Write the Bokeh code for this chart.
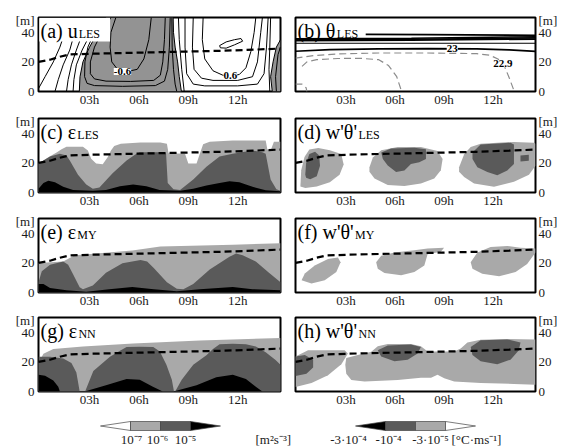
from bokeh.plotting import figure
from bokeh.layouts import column, row
from bokeh.models import Range1d, FixedTicker, Label, BoxAnnotation
from bokeh.embed import file_html
from bokeh.resources import INLINE
from bokeh.core.properties import value

SERIF = "Liberation Serif"
LIGHT = "#a9a9a9"
DARK = "#5a5a5a"
BLACK = "#000000"
UGRAY = "#939393"

T_START, T_END = -0.1, 14.6
Z_START, Z_END = 0, 50
x_ticks = [3, 6, 9, 12]
x_tick_labels = ["03h", "06h", "09h", "12h"]
y_ticks = [0, 20, 40]
y_unit_tick = 48

# boundary-layer height (dashed)
blh_t = [-0.1, 0.6, 1.2, 1.8, 3, 5, 7, 9, 11, 13, 14.6]
blh_z = [20, 21.5, 23.5, 25, 25.5, 26, 26.5, 27, 27.5, 28.3, 29]

# ---------------- (a) u_LES ----------------
a_neg_t = [[2.38, 2.42, 2.6, 3.0, 3.5, 4.0, 8.08, 8.1, 8.2, 8.35, 8.45, 8.58],
           [14.1, 14.0, 14.15, 14.35, 14.6, 14.6]]
a_neg_z = [[0, 10, 20, 30, 40, 50, 50, 40, 30, 20, 10, 0],
           [0, 10, 20, 30, 35, 0]]
a_lines_t = [
    [-0.1, 0.3, 0.8, 1.2, 1.5, 1.7],
    [0.9, 1.1, 1.4, 1.8, 2.1, 2.4],
    [1.6, 1.7, 1.9, 2.2, 2.6, 3.0],
    [2.0, 2.05, 2.2, 2.55, 3.1, 3.7],
    [2.38, 2.42, 2.6, 3.0, 3.5, 4.0],
    [3.9, 3.3, 2.9, 2.72, 2.7, 2.85, 3.3, 5.0, 7.0, 7.55, 7.75, 7.85, 7.9],
    [4.3, 3.75, 3.3, 3.05, 3.05, 3.3, 4.0, 5.5, 6.9, 7.3, 7.45, 7.55, 7.6],
    [4.6, 4.3, 4.25, 4.35, 4.7, 5.3, 5.9, 6.3, 6.6, 6.75],
    [8.0, 8.02, 8.1, 8.2, 8.3],
    [8.08, 8.1, 8.2, 8.35, 8.45, 8.58],
    [8.4, 8.45, 8.6, 8.75],
    [8.8, 8.8, 8.9, 9.3, 10.0, 12.0, 13.2, 13.6, 13.75, 13.85],
    [9.3, 9.25, 9.35, 9.8, 10.5, 12.0, 12.9, 13.2, 13.4, 13.5],
    [9.9, 9.85, 10.0, 10.5, 11.1, 11.6, 12.1, 12.5, 12.8, 13.0, 13.1],
    [10.9, 11.3, 11.8, 12.2, 12.3, 11.8, 11.3, 10.95, 10.9],
    [14.0, 13.95, 13.9, 13.95],
    [14.1, 14.0, 14.15, 14.35, 14.6],
    [14.35, 14.3, 14.45, 14.6],
]
a_lines_z = [
    [2, 10, 20, 30, 40, 50],
    [0, 8, 18, 28, 40, 50],
    [0, 8, 18, 28, 40, 50],
    [0, 8, 18, 28, 40, 50],
    [0, 10, 20, 30, 40, 50],
    [50, 40, 30, 20, 10, 5.5, 4, 3.5, 4, 7, 15, 30, 50],
    [50, 40, 30, 20, 12, 8.5, 7, 6.8, 7.5, 11, 20, 35, 50],
    [50, 40, 30, 20, 15, 13.5, 15, 22, 35, 50],
    [50, 30, 15, 5, 0],
    [50, 40, 30, 20, 10, 0],
    [50, 35, 15, 0],
    [50, 30, 12, 5, 3.8, 3.8, 5, 12, 30, 50],
    [50, 30, 15, 9, 7.5, 7.5, 10, 20, 40, 50],
    [50, 35, 22, 14, 11, 10.5, 11.5, 16, 27, 40, 50],
    [31, 33.5, 35, 35.8, 34, 31.5, 29.3, 29.5, 31],
    [50, 30, 15, 0],
    [0, 10, 20, 30, 35],
    [0, 10, 25, 30],
]
a_clabels = ["-0.6", "0.6"]
a_clabel_t = [5.0, 11.55]
a_clabel_z = [13.5, 10.5]

# ---------------- (b) theta_LES ----------------
b_solid_t = [[4.2, 8, 14.6], [-0.1, 7, 14.6], [-0.1, 7, 14.6], [-0.1, 7, 14.6],
             [-0.1, 14.6], [-0.1, 2, 5, 8, 11, 13, 14.6]]
b_solid_z = [[38.6, 38.4, 38.0], [35.6, 36.0, 37.0], [35.0, 35.3, 36.2], [34.4, 34.7, 35.4],
             [32.6, 32.6], [27.2, 28.3, 28.8, 29.0, 28.8, 28.1, 27.1]]
b_solid_w = [1.6, 1.6, 1.6, 1.6, 1.0, 1.6]
b_dash_t = [[-0.1, 1, 2.5, 5, 8, 11, 11.8, 12.3, 12.7, 13.0, 13.3],
            [0.3, 0.6, 1.2, 2.5, 3.9, 5.0, 5.6, 6.1, 6.4],
            [-0.1, 0.3, 0.55, 0.6]]
b_dash_z = [[22.5, 24.3, 25.4, 26.0, 26.0, 25.6, 24.5, 22, 17, 9, 0],
            [17, 20, 21.5, 22.3, 22.4, 21.5, 17.5, 10, 0],
            [5, 5, 2.5, 0]]
b_clabels = ["23", "22.9"]
b_clabel_t = [9.5, 12.6]
b_clabel_z = [29.0, 18.8]

# ---------------- (c) eps_LES ----------------
c_light_t = [-0.1, 0.6, 1.0, 1.3, 1.6, 2.6, 2.9, 3.1, 3.4, 3.8, 4.1, 4.3, 4.5, 4.9, 6.1, 7.3, 7.7, 7.8,
             8.8, 9.0, 9.5, 9.7, 9.9, 10.3, 11.7, 13.7, 13.8, 14.0, 14.2, 14.6]
c_light_z = [19.6, 24.5, 27.0, 29.3, 30.9, 30.9, 28.3, 22.8, 19.6, 19.1, 23.9, 28.3, 31.5, 33.0, 33.7, 33.7,
             33.0, 26.5, 26.1, 19.6, 19.6, 26.1, 32.6, 34.3, 35.2, 35.2, 29.3, 28.3, 34.3, 34.3]
c_dark_t = [-0.1, 0.6, 1.2, 1.6, 1.8, 2.3, 2.8, 3.2, 3.6, 4.4, 5.25, 5.85, 6.05, 7.45, 7.65, 7.75, 8.1,
            8.5, 9.3, 10.1, 10.9, 11.7, 12.9, 13.5, 13.7, 14.0, 14.35, 14.6]
c_dark_z = [19.6, 24.3, 26.1, 25.0, 21.7, 12.0, 5.4, 2.6, 3.3, 13.0, 21.7, 26.1, 27.2, 27.2, 26.1, 6.5,
            2.2, 1.7, 8.7, 17.4, 24.3, 26.1, 28.3, 27.2, 26.1, 8.7, 2.2, 1.1]
c_black_t = [-0.1, 0.2, 0.5, 0.9, 1.4, 2.0, 3.2, 4.0, 4.85, 5.65, 6.45, 7.25, 8.5, 9.3, 10.1, 10.9,
             11.5, 12.1, 12.9, 13.7, 14.6]
c_black_z = [2.6, 6.5, 8.0, 7.0, 3.9, 1.7, 1.1, 1.7, 4.3, 5.4, 4.3, 1.7, 1.1, 2.6, 4.8, 6.5, 7.6, 7.0,
             3.9, 1.5, 0.9]

# ---------------- (d) w'theta'_LES ----------------
d_light_t = [[0.2, 0.25, 0.45, 0.75, 1.3, 2.0, 2.7, 2.85, 2.6, 2.0, 1.2, 0.5],
             [4.43, 4.64, 5.15, 6.16, 7.58, 8.6, 8.91, 8.8, 8.4, 7.58, 6.57, 5.55, 4.74, 4.43],
             [9.92, 10.23, 10.63, 11.24, 13.28, 14.5, 14.6, 14.6, 14.2, 13.28, 12.06, 10.84, 10.23, 9.92]]
d_light_z = [[4, 15, 24, 29, 30, 28.5, 26, 19, 12, 7, 4, 3],
             [17, 23.7, 28.5, 30.7, 30.7, 28.1, 22.6, 15, 9.4, 6.1, 4.4, 5, 9.4, 14],
             [17, 25.9, 30.7, 32.9, 34.2, 33.6, 33, 18, 12, 7.2, 3.9, 6.1, 10.5, 14]]
d_dark_t = [[0.5, 0.55, 0.75, 1.1, 1.35, 1.4, 1.2, 0.8, 0.55],
            [5.15, 5.75, 7.18, 7.89, 7.89, 7.48, 6.97, 6.57, 6.06, 5.55, 5.25],
            [10.74, 11.24, 13.07, 13.28, 13.28, 12.87, 12.26, 11.65, 11.04, 10.74],
            [13.68, 14.19, 14.19, 13.68]]
d_dark_z = [[12, 20, 26, 27.5, 25, 18, 11, 9, 10],
            [27, 29.8, 30.3, 29.2, 22.6, 20.4, 19.3, 14.9, 13.8, 18.2, 22.6],
            [27, 32.5, 33.6, 32.5, 19.3, 14.9, 11.6, 13.8, 17.1, 22.6],
            [25, 25.5, 21.5, 21]]

# ---------------- (e) eps_MY ----------------
e_light_t = [-0.1, 1.4, 2.1, 5.6, 7.3, 11.7, 14.6]
e_light_z = [20, 21, 25.2, 28.4, 31, 32.3, 33.2]
e_dark_t = [-0.1, 0.1, 0.6, 1.4, 1.7, 2.0, 2.4, 2.6, 3.2, 4.0, 5.0, 6.1, 6.5, 6.9, 7.7, 8.3, 8.7, 9.3,
            10.3, 11.5, 11.9, 12.3, 13.1, 13.9, 14.6]
e_dark_z = [7, 14.4, 18.7, 20.9, 18.7, 12.3, 3.5, 2.2, 4.7, 13.4, 19.8, 22.0, 20.9, 16.6, 6.9, 2.6, 2.2,
            5.8, 15.5, 24.1, 26.3, 25.2, 20.9, 13.4, 6.9]
e_black_t = [-0.1, 0.2, 0.6, 1.6, 2.8, 4.2, 5.6, 6.9, 8.3, 9.7, 11.7, 12.9, 14.6]
e_black_z = [5.8, 5.8, 3.0, 1.5, 0.5, 2.2, 3.7, 2.2, 0.8, 2.2, 3.7, 2.2, 1.5]

# ---------------- (f) w'theta'_MY ----------------
f_light_t = [[0.27, 0.47, 1.08, 1.89, 2.5, 2.66, 2.4, 1.69, 0.88],
             [4.84, 5.15, 5.96, 7.18, 7.99, 9.0, 8.8, 7.99, 7.79, 7.18, 6.37, 5.35, 4.94],
             [10.63, 11.04, 11.85, 12.87, 13.68, 14.6, 14.6, 14.09, 13.38, 12.37, 11.34, 10.74]]
f_light_z = [[8.3, 12.9, 18.2, 22.6, 23.7, 20.4, 13.8, 8.3, 6.1],
             [20.4, 24.8, 27, 28.5, 29.8, 30.3, 27.6, 25.9, 18.2, 13.8, 11.6, 13.2, 16],
             [20.4, 27, 30.7, 31.4, 30.3, 29.8, 27, 19.3, 13.8, 11, 12.7, 16]]

# ---------------- (g) eps_NN ----------------
g_light_t = [-0.1, 0.2, 0.8, 2.6, 5.65, 9.7, 14.6]
g_light_z = [19.2, 25.5, 28.7, 30.4, 32.5, 34.5, 36.2]
g_dark_t = [-0.1, 0.6, 1.4, 1.9, 2.2, 2.32, 2.4, 2.73, 3.23, 4.24, 4.85, 5.25, 6.06, 6.87, 7.27, 7.67,
            8.0, 8.13, 8.2, 8.6, 9.3, 10.1, 10.5, 10.9, 11.7, 12.5, 13.1, 13.7, 14.3, 14.6]
g_dark_z = [23.4, 23.4, 22.3, 19.2, 12.8, 5.3, 0, 0, 13.8, 23.4, 27.5, 30.0, 30.3, 30.0, 27.0, 18.1,
            8.0, 0, 0, 8.0, 18.1, 24.5, 28.7, 32.0, 32.3, 32.0, 30.4, 26.6, 21.3, 18.1]
g_black_t = [-0.1, 0.3, 0.8, 1.1, 1.2, 2.7, 4.0, 5.25, 6.05, 6.85, 7.45, 8.1, 9.5, 10.7, 11.7, 12.5,
             13.1, 13.5, 14.6]
g_black_z = [11.3, 10.6, 7.4, 3.2, 0, 0, 4.3, 8.5, 7.9, 3.2, 0, 0, 4.3, 9.6, 11.3, 8.5, 3.2, 0, 0]

# ---------------- (h) w'theta'_NN ----------------
h_light_t = [[-0.1, 0.67, 1.69, 2.91, 3.11, 2.71, 1.89, 0.88, -0.1],
             [3.01, 3.72, 4.54, 4.94, 5.55, 6.97, 7.58, 8.0, 9.62, 10.02, 10.43, 11.24, 12.87, 14.6, 14.6,
              13.28, 11.24, 9.62, 9.01, 8.6, 8.2, 7.58, 6.16, 4.13, 3.32, 3.01, 2.95]]
h_light_z = [[23.6, 27.9, 27.9, 27.9, 25.7, 18.4, 11, 5.7, 3.0],
             [22.6, 24.7, 26.8, 30.5, 32.1, 32.1, 30.5, 27, 27, 29, 33.1, 35, 35.5, 35.2, 4.6,
              5.1, 5.7, 6.8, 8.9, 11.4, 9.3, 9.3, 7.8, 6.8, 7.8, 12, 18]]
h_dark_t = [[-0.1, 0.47, 0.98, 0.98, 0.57, -0.1],
            [4.94, 5.55, 6.97, 7.58, 7.38, 6.77, 5.96, 5.15],
            [10.63, 11.24, 12.87, 13.68, 13.58, 13.07, 12.26, 11.24, 10.74]]
h_dark_z = [[23.6, 24.7, 21.5, 16.2, 12, 10.5],
            [27.9, 31.0, 31.7, 30.0, 25.7, 21.5, 20.5, 23.6],
            [30.0, 34.6, 35.2, 33.1, 27.9, 21.5, 18.4, 20.5, 24.7]]

# colour bars
eps_levels = ["10\u207b\u2077", "10\u207b\u2076", "10\u207b\u2075"]
eps_colors = ["white", LIGHT, DARK, BLACK]
eps_unit = "[m\u00b2s\u207b\u00b3]"
flux_levels = ["-3\u00b710\u207b\u2074", "-10\u207b\u2074", "-3\u00b710\u207b\u2075"]
flux_colors = [BLACK, DARK, LIGHT, "white"]
flux_unit = "[\u00b0C\u00b7ms\u207b\u00b9]"

titles = [("(a) u", "LES"), ("(b) \u03b8", "LES"), ("(c) \u03b5", "LES"), ("(d) w'\u03b8'", "LES"),
          ("(e) \u03b5", "MY"), ("(f) w'\u03b8'", "MY"), ("(g) \u03b5", "NN"), ("(h) w'\u03b8'", "NN")]

CW = {"(": 333, ")": 333, " ": 250, "a": 444, "b": 500, "c": 444, "d": 500, "e": 444, "f": 333,
      "g": 500, "h": 500, "u": 500, "w": 722, "'": 180, "\u03b8": 500, "\u03b5": 430}
TITLE_PX = 20
SUB_PX = 12

# (figure height, top border) per row -> frames at y = 17, 118, 218, 317 (77 px tall)
ROW_GEOM = [(109, 17), (101, 9), (100, 8), (99, 7)]


def make_fig(side, rowi):
    h, top = ROW_GEOM[rowi]
    common = dict(height=h, x_range=Range1d(T_START, T_END), y_range=Range1d(Z_START, Z_END),
                  output_backend="svg", toolbar_location=None, title=None,
                  min_border_top=top, min_border_bottom=15)
    if side == "L":
        p = figure(width=287, min_border_left=38, min_border_right=7, y_axis_location="left", **common)
    else:
        p = figure(width=274, min_border_left=8, min_border_right=26, y_axis_location="right", **common)
    p.grid.visible = False
    p.outline_line_color = "black"
    p.outline_line_width = 2
    p.background_fill_color = "white"
    p.border_fill_color = "white"
    xa = p.xaxis[0]
    ya = p.yaxis[0]
    xa.ticker = FixedTicker(ticks=x_ticks)
    xa.major_label_overrides = {t: l for t, l in zip(x_ticks, x_tick_labels)}
    ya.ticker = FixedTicker(ticks=y_ticks + [y_unit_tick])
    ya.major_label_overrides = {y_unit_tick: "[m]"}
    for ax in (xa, ya):
        ax.axis_line_color = None
        ax.major_tick_line_color = None
        ax.minor_tick_line_color = None
        ax.major_tick_out = 0
        ax.major_tick_in = 0
        ax.major_label_text_font = SERIF
        ax.major_label_text_font_size = "13px"
        ax.major_label_text_color = "#1a1a1a"
    xa.major_label_standoff = 0
    ya.major_label_standoff = 4 if side == "L" else 3
    return p


def title(p, main, sub):
    w = sum(CW.get(ch, 500) for ch in main) * TITLE_PX / 1000.0
    p.add_layout(Label(x=T_START, y=48.2, x_offset=2, text=main, text_font=SERIF,
                       text_font_size="%dpx" % TITLE_PX, text_baseline="top",
                       text_color="black"))
    p.add_layout(Label(x=T_START, y=43.6, x_offset=3 + w, text=sub, text_font=SERIF,
                       text_font_size="%dpx" % SUB_PX, text_baseline="top",
                       text_color="black"))


def blh(p):
    p.line(blh_t, blh_z, line_color="black", line_width=2.2, line_dash="7 4")


def layers(p, ts, zs, cols):
    for t, z, c in zip(ts, zs, cols):
        p.varea(x=t, y1=0, y2=z, fill_color=c)


def clabels(p, texts, ts, zs):
    for s, t, z in zip(texts, ts, zs):
        p.add_layout(Label(x=t, y=z, text=s, text_font=SERIF, text_font_size="11px",
                           text_font_style="bold", text_align="center", text_baseline="middle",
                           background_fill_color="white", text_color="black"))


# (a)
pa = make_fig("L", 0)
pa.patches(a_neg_t, a_neg_z, fill_color=UGRAY, line_color=None)
pa.multi_line(a_lines_t, a_lines_z, line_color="black", line_width=1.0)
blh(pa)
pa.add_layout(BoxAnnotation(left=-0.05, right=4.25, bottom=33.7, top=49.8, fill_color="white",
                            fill_alpha=1.0, line_color=None))
clabels(pa, a_clabels, a_clabel_t, a_clabel_z)
title(pa, *titles[0])

# (b)
pb = make_fig("R", 0)
for t, z, w in zip(b_solid_t, b_solid_z, b_solid_w):
    pb.line(t, z, line_color="black", line_width=w)
pb.multi_line(b_dash_t, b_dash_z, line_color="#8c8c8c", line_width=1.2, line_dash="7 4")
clabels(pb, b_clabels, b_clabel_t, b_clabel_z)
title(pb, *titles[1])

# (c)
pc = make_fig("L", 1)
layers(pc, [c_light_t, c_dark_t, c_black_t], [c_light_z, c_dark_z, c_black_z], [LIGHT, DARK, BLACK])
blh(pc)
title(pc, *titles[2])

# (d)
pd = make_fig("R", 1)
pd.patches(d_light_t, d_light_z, fill_color=LIGHT, line_color=None)
pd.patches(d_dark_t, d_dark_z, fill_color=DARK, line_color=None)
blh(pd)
title(pd, *titles[3])

# (e)
pe = make_fig("L", 2)
layers(pe, [e_light_t, e_dark_t, e_black_t], [e_light_z, e_dark_z, e_black_z], [LIGHT, DARK, BLACK])
blh(pe)
title(pe, *titles[4])

# (f)
pf = make_fig("R", 2)
pf.patches(f_light_t, f_light_z, fill_color=LIGHT, line_color=None)
blh(pf)
title(pf, *titles[5])

# (g)
pg = make_fig("L", 3)
layers(pg, [g_light_t, g_dark_t, g_black_t], [g_light_z, g_dark_z, g_black_z], [LIGHT, DARK, BLACK])
blh(pg)
title(pg, *titles[6])

# (h)
ph = make_fig("R", 3)
ph.patches(h_light_t, h_light_z, fill_color=LIGHT, line_color=None)
ph.patches(h_dark_t, h_dark_z, fill_color=DARK, line_color=None)
blh(ph)
title(ph, *titles[7])

# colour-bar strip (pixel-unit ranges)
CB_H = 37
cb = figure(width=561, height=CB_H, x_range=Range1d(0, 561), y_range=Range1d(0, CB_H),
            output_backend="svg", toolbar_location=None, x_axis_location=None,
            y_axis_location=None, min_border=0, title=None)
cb.grid.visible = False
cb.outline_line_color = None
cb.background_fill_color = "white"
cb.border_fill_color = "white"


def colorbar(p, x0, seg, y0, y1, colors, labels, label_x, unit, unit_x):
    n = len(colors)
    ym = (y0 + y1) / 2.0
    xs, ys = [], []
    for i in range(n):
        a = x0 + i * seg
        b = a + seg
        if i == 0:
            xs.append([a, b, b]); ys.append([ym, y1, y0])
        elif i == n - 1:
            xs.append([a, b, a]); ys.append([y0, ym, y1])
        else:
            xs.append([a, b, b, a]); ys.append([y0, y0, y1, y1])
    p.patches(xs, ys, fill_color=colors, line_color="#444444", line_width=0.7)
    p.text(x=label_x, y=[7] * len(labels), text=labels, text_font=value(SERIF),
           text_font_size=value("13px"), text_align="center", text_baseline="alphabetic",
           text_color="#1a1a1a")
    p.text(x=[unit_x], y=[7], text=[unit], text_font=value(SERIF),
           text_font_size=value("13px"), text_align="left", text_baseline="alphabetic",
           text_color="#1a1a1a")


colorbar(cb, 100, 30, 16, 25, eps_colors, eps_levels, [131, 157, 185], eps_unit, 255)
colorbar(cb, 355, 30, 16, 25, flux_colors, flux_levels, [348, 388, 430], flux_unit, 451)

layout = column(row(pa, pb), row(pc, pd), row(pe, pf), row(pg, ph), cb)
open("out.html", "w").write(file_html(layout, INLINE, "chart"))
